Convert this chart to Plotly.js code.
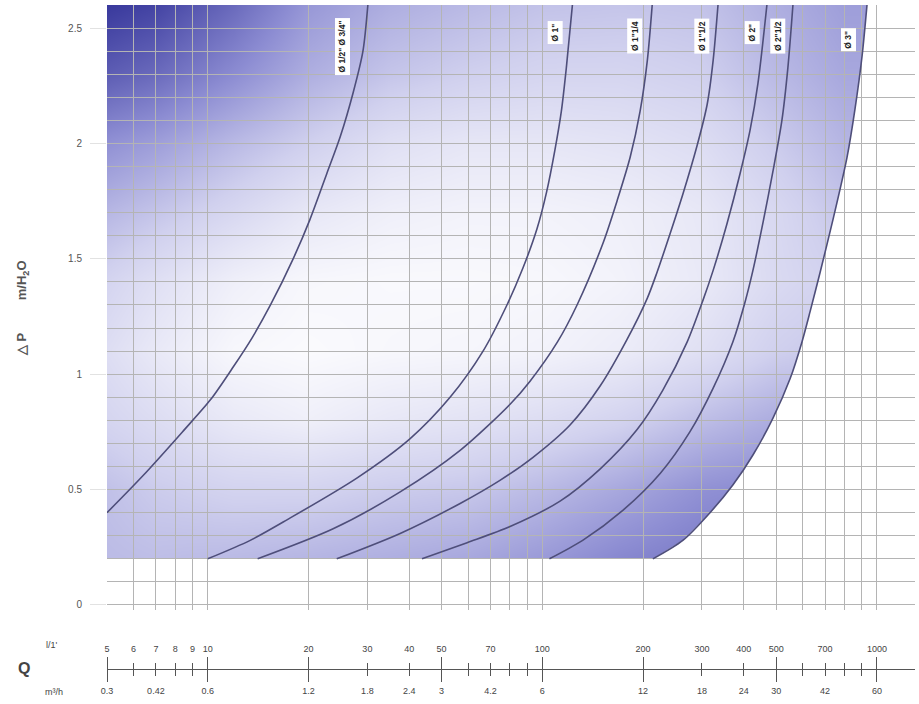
<!DOCTYPE html>
<html><head><meta charset="utf-8">
<script src="https://cdn.plot.ly/plotly-3.0.1.min.js"></script>
<style>html,body{margin:0;padding:0;background:#fff}#chart{width:919px;height:704px}</style>
</head><body><div id="chart"></div>
<script>
// Flow Q (l/min) vs pressure drop ΔP (m H2O) for each pipe diameter
const qA  = [5, 6.4, 8.4, 10.2, 11.9, 13.6, 15.4, 18.0, 20.2, 22.7, 24.9, 27.2, 29.1, 30.1];
const dpA = [0.40, 0.56, 0.75, 0.89, 1.03, 1.16, 1.30, 1.50, 1.67, 1.87, 2.03, 2.22, 2.40, 2.60];
const qB  = [10, 13.4, 17.3, 27.9, 40.2, 53.0, 66.5, 78.4, 87.5, 96.4, 103, 109, 114, 118, 123];
const dpB = [0.20, 0.28, 0.37, 0.55, 0.72, 0.90, 1.10, 1.30, 1.46, 1.63, 1.79, 1.97, 2.14, 2.33, 2.60];
const qC  = [14.1, 23.7, 37.6, 56.8, 80.1, 91.9, 111, 127, 152, 168, 183, 196, 206, 213];
const dpC = [0.20, 0.33, 0.49, 0.67, 0.87, 0.97, 1.14, 1.30, 1.57, 1.76, 1.94, 2.14, 2.36, 2.60];
const qD  = [24.3, 37.6, 56.8, 74.7, 93.8, 121, 149, 179, 206, 220, 241, 263, 290, 311, 324, 335];
const dpD = [0.20, 0.31, 0.44, 0.54, 0.64, 0.78, 0.95, 1.15, 1.33, 1.44, 1.61, 1.78, 1.99, 2.17, 2.36, 2.60];
const qE  = [43.7, 59.6, 80.1, 113, 149, 192, 229, 271, 302, 324, 356, 390, 418, 441, 469];
const dpE = [0.20, 0.27, 0.34, 0.45, 0.59, 0.76, 0.93, 1.14, 1.32, 1.45, 1.65, 1.87, 2.06, 2.26, 2.60];
const qF  = [105, 132, 174, 225, 276, 324, 371, 403, 426, 457, 489, 520, 542, 561];
const dpF = [0.20, 0.28, 0.41, 0.57, 0.75, 0.94, 1.14, 1.31, 1.45, 1.66, 1.88, 2.10, 2.33, 2.60];
const qG  = [214, 263, 317, 371, 426, 489, 550, 597, 631, 676, 739, 814, 860, 903, 934];
const dpG = [0.20, 0.28, 0.40, 0.52, 0.65, 0.81, 0.98, 1.14, 1.27, 1.44, 1.67, 1.94, 2.15, 2.38, 2.60];

const curveNames = ['Ø 1/2" Ø 3/4"', 'Ø 1"', 'Ø 1"1/4', 'Ø 1"1/2', 'Ø 2"', 'Ø 2"1/2', 'Ø 3"'];
const labelQ  = [25.2, 109, 189, 300, 423, 506, 820];
const labelDP = [2.42, 2.48, 2.465, 2.465, 2.48, 2.465, 2.45];

// axis ticks
const gridQ = [5,6,7,8,9,10,20,30,40,50,60,70,80,90,100,200,300,400,500,600,700,800,900,1000];
const dpTicks = [0, 0.5, 1, 1.5, 2, 2.5];
const dpTickText = ['0', '0.5', '1', '1.5', '2', '2.5'];
const lpmVals = [5,6,7,8,9,10,20,30,40,50,70,100,200,300,400,500,700,1000];
const lpmText = ['5','6','7','8','9','10','20','30','40','50','70','100','200','300','400','500','700','1000'];
const m3hVals = [5,7,10,20,30,40,50,70,100,200,300,400,500,700,1000];
const m3hText = ['0.3','0.42','0.6','1.2','1.8','2.4','3','4.2','6','12','18','24','30','42','60'];
const longTicks = [5,10,20,50,100,200,500,1000];
const shortTicks = [6,7,8,9,30,40,60,70,80,90,300,400,600,700,800,900];

// background shade intensity (decorative), rows = shadeY, cols = shadeX
const shadeX = [4, 7, 12, 20, 35, 60, 100, 170, 300, 500, 800, 1400];
const shadeY = [0.2, 0.5, 0.8, 1.1, 1.4, 1.7, 2.0, 2.3, 2.6];
const shadeZ = [
  [0.40, 0.38, 0.40, 0.42, 0.45, 0.48, 0.54, 0.62, 0.68, 0.70, 0.70, 0.70],
  [0.40, 0.32, 0.28, 0.28, 0.32, 0.34, 0.40, 0.48, 0.58, 0.62, 0.62, 0.62],
  [0.30, 0.22, 0.14, 0.10, 0.15, 0.18, 0.22, 0.28, 0.38, 0.46, 0.46, 0.46],
  [0.26, 0.14, 0.05, 0.03, 0.05, 0.06, 0.08, 0.12, 0.20, 0.30, 0.35, 0.35],
  [0.32, 0.20, 0.10, 0.05, 0.04, 0.04, 0.05, 0.08, 0.14, 0.24, 0.30, 0.30],
  [0.45, 0.35, 0.25, 0.15, 0.10, 0.08, 0.08, 0.10, 0.15, 0.25, 0.35, 0.35],
  [0.62, 0.52, 0.40, 0.30, 0.20, 0.16, 0.16, 0.18, 0.22, 0.32, 0.42, 0.42],
  [0.85, 0.75, 0.60, 0.45, 0.35, 0.30, 0.27, 0.27, 0.30, 0.40, 0.48, 0.48],
  [1.00, 0.92, 0.75, 0.55, 0.45, 0.40, 0.36, 0.35, 0.36, 0.45, 0.52, 0.52]
];

const FONT = 'Liberation Sans, Arial, sans-serif';
const lineCol = 'rgb(78,78,122)';
const gridC = '#b4b4b4';
const xr = [Math.log10(5), Math.log10(5) + 808 / 334.6];
const yr = [-5 / 230, 2.6];
const dom = [(700 - 610) / 695, 1];
const P = (700 - 669) / 695;

const traces = [];
// layer 1 (below grid): shading + mask
traces.push({type:'heatmap', x: shadeX, y: shadeY, z: shadeZ, zsmooth:'best', zmin:0, zmax:1,
  colorscale:[[0,'rgb(255,255,255)'],[0.3,'rgb(208,208,238)'],[0.6,'rgb(140,140,210)'],[1,'rgb(50,50,152)']],
  showscale:false, hoverinfo:'skip', xaxis:'x', yaxis:'y'});
const mx = [3].concat(qG, [qG[qG.length-1], 3000, 3000, 3]);
const my = [dpG[0]].concat(dpG, [3, 3, -0.5, -0.5]);
traces.push({type:'scatter', mode:'lines', x: mx, y: my, fill:'toself', fillcolor:'#ffffff',
  line:{width:0, color:'#fff', shape:'linear'}, hoverinfo:'skip', xaxis:'x', yaxis:'y'});

// layer 2: curves
const qs = [qA,qB,qC,qD,qE,qF,qG], dps = [dpA,dpB,dpC,dpD,dpE,dpF,dpG];
qs.forEach((q,i) => traces.push({type:'scatter', mode:'lines', x:q, y:dps[i], name:curveNames[i],
  line:{color:lineCol, width:1.6, shape:'spline', smoothing:0.8}, xaxis:'x2', yaxis:'y2', hoverinfo:'skip'}));
['x3','x4','x5','x6'].forEach(a => traces.push({type:'scatter', mode:'markers', x:[null], y:[null],
  xaxis:a, yaxis:'y2', hoverinfo:'skip', showlegend:false}));

const scaleBase = {type:'log', range:xr, overlaying:'x2', anchor:'free', position:P,
  showgrid:false, zeroline:false, tickangle:0, tickfont:{family:FONT, size:9, color:'#444'}};

const annotations = curveNames.map((t,i) => ({xref:'x2', yref:'y2', x:Math.log10(labelQ[i]), y:labelDP[i],
  xanchor:'center', yanchor:'middle',
  text:'<b>'+t+'</b>', textangle:-90, showarrow:false, bgcolor:'#ffffff', borderpad:2,
  font:{family:FONT, size:8.5, color:'#222'}}));
const paperNote = (px, py, text, size, extra) => Object.assign({xref:'paper', yref:'paper',
  x:(px-107)/808, y:(700-py)/695, xanchor:'center', yanchor:'middle', showarrow:false,
  text:text, font:{family:FONT, size:size, color:'#444'}}, extra || {});
annotations.push(paperNote(22, 308, '<b>△ P\u00a0\u00a0\u00a0\u00a0\u00a0\u00a0\u00a0\u00a0\u00a0m/H<sub>2</sub>O</b>', 13,
  {textangle:-90, font:{family:FONT, size:13, color:'#555'}}));
annotations.push(paperNote(24, 668, '<b>Q</b>', 16));
annotations.push(paperNote(52, 645, "l/1'", 9));
annotations.push(paperNote(54, 692, 'm³/h', 9));

const layout = {
  width:919, height:704, margin:{l:107, r:4, t:5, b:4},
  paper_bgcolor:'#ffffff', plot_bgcolor:'rgba(0,0,0,0)', showlegend:false,
  font:{family:FONT},
  xaxis:{type:'log', range:xr, domain:[0,1], visible:false, anchor:'y'},
  yaxis:{range:yr, domain:dom, visible:false, anchor:'x'},
  xaxis2:{type:'log', range:xr, domain:[0,1], anchor:'y2', tickmode:'array', tickvals:gridQ, showticklabels:false,
    ticks:'', showgrid:true, gridcolor:gridC, gridwidth:1, zeroline:false, showline:false},
  yaxis2:{range:yr, domain:dom, anchor:'x2', tickmode:'array', tickvals:dpTicks, ticktext:dpTickText,
    ticks:'outside', ticklen:16, tickcolor:'#e2e2e2', showgrid:true, gridcolor:gridC, gridwidth:1,
    minor:{dtick:0.1, tick0:0, showgrid:true, gridcolor:gridC, gridwidth:1, ticks:''},
    zeroline:false, showline:false, ticklabelstandoff:6, tickfont:{family:FONT, size:10, color:'#555'}},
  xaxis3:Object.assign({}, scaleBase, {side:'top', tickmode:'array', tickvals:lpmVals, ticktext:lpmText,
    ticks:'outside', ticklen:13, tickcolor:'rgba(0,0,0,0)', showline:true, linecolor:'#555', linewidth:1}),
  xaxis4:Object.assign({}, scaleBase, {side:'bottom', tickmode:'array', tickvals:m3hVals, ticktext:m3hText,
    ticks:'outside', ticklen:13, tickcolor:'rgba(0,0,0,0)', showline:false}),
  xaxis5:Object.assign({}, scaleBase, {side:'top', tickmode:'array', tickvals:longTicks, showticklabels:false,
    ticks:'outside', ticklen:12, tickcolor:'#555', tickwidth:1,
    minor:{tickmode:'array', tickvals:shortTicks, ticks:'outside', ticklen:6, tickcolor:'#555', tickwidth:1}}),
  xaxis6:Object.assign({}, scaleBase, {side:'bottom', tickmode:'array', tickvals:longTicks, showticklabels:false,
    ticks:'outside', ticklen:12, tickcolor:'#555', tickwidth:1,
    minor:{tickmode:'array', tickvals:shortTicks, ticks:'outside', ticklen:6, tickcolor:'#555', tickwidth:1}}),
  annotations: annotations
};

Plotly.newPlot('chart', traces, layout, {displayModeBar:false, staticPlot:true});
</script>
</body></html>
